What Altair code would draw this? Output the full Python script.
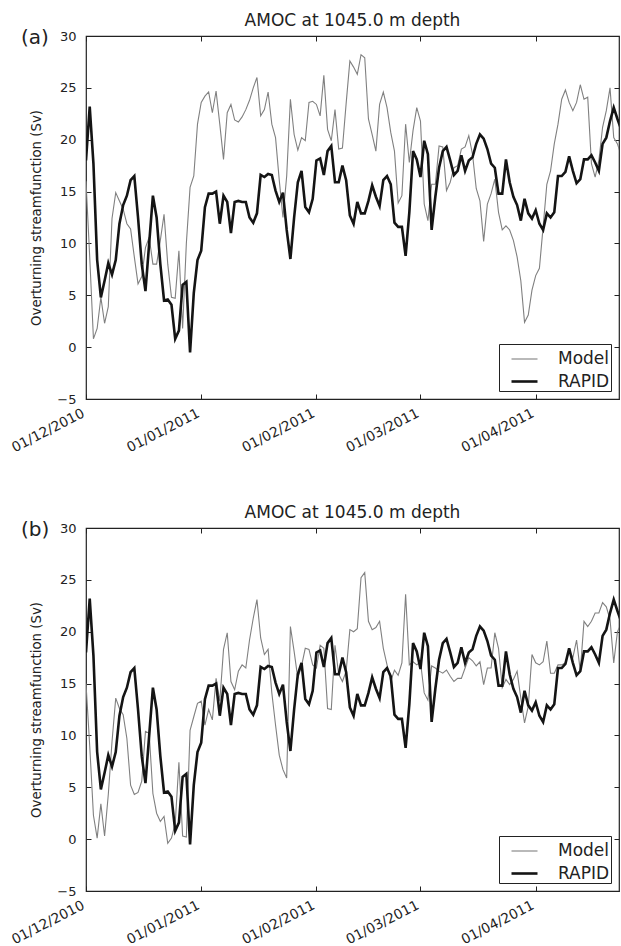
import altair as alt
import pandas as pd

# Daily AMOC transport at 1045 m, 1 Dec 2010 onwards (Sv)
rapid = [
    18.0, 23.2, 17.7, 8.4, 4.8, 6.4, 8.1, 7.0, 8.4, 11.9,
    13.7, 14.6, 16.1, 16.5, 12.5, 8.0, 5.4, 10.0, 14.6, 12.5,
    8.0, 4.5, 4.6, 4.1, 0.8, 1.6, 6.0, 6.3, -0.5, 5.2,
    8.4, 9.3, 13.5, 14.8, 14.8, 15.0, 11.9, 14.6, 14.0, 11.0,
    14.0, 14.1, 14.0, 14.0, 12.5, 12.0, 12.9, 16.6, 16.4, 16.7,
    16.6, 15.1, 14.0, 14.9, 11.3, 8.5, 12.5, 15.9, 17.0, 13.5,
    13.0, 14.3, 18.0, 18.2, 16.6, 18.9, 19.4, 15.9, 15.9, 17.5,
    16.1, 12.7, 11.9, 14.0, 12.9, 12.9, 14.1, 15.6, 14.5, 13.6,
    16.1, 16.5, 15.7, 12.0, 11.6, 11.6, 8.8, 13.0, 18.9, 18.1,
    16.4, 19.9, 18.6, 11.3, 14.5, 17.3, 18.9, 19.3, 18.0, 16.6,
    17.0, 18.5, 17.0, 18.0, 18.3, 19.6, 20.5, 20.1, 19.1, 17.7,
    17.3, 14.8, 14.8, 18.1, 15.9, 14.5, 13.7, 12.2, 14.3, 12.9,
    12.4, 13.2, 11.9, 11.3, 12.9, 12.5, 13.0, 16.5, 16.5, 16.9,
    18.4, 17.0, 15.8, 16.2, 18.1, 18.1, 18.5, 17.8, 17.0, 19.6,
    20.2, 21.8, 23.1, 22.0, 21.0,
]

model_a = [
    16.0, 8.7, 0.8, 1.8, 4.8, 2.3, 3.9, 12.4, 14.9, 14.1,
    13.3, 11.9, 11.4, 8.7, 6.1, 6.8, 9.6, 10.6, 8.0, 8.0,
    10.3, 12.8, 8.0, 4.8, 4.7, 9.3, 1.8, 10.0, 15.4, 16.5,
    21.5, 23.6, 24.2, 24.6, 22.6, 24.7, 21.5, 18.1, 22.6, 23.4,
    21.9, 21.7, 22.2, 22.9, 23.8, 25.0, 26.0, 22.3, 22.9, 24.6,
    21.5, 20.2, 16.1, 12.5, 16.5, 23.9, 20.5, 19.0, 20.2, 19.9,
    23.6, 23.7, 23.4, 22.3, 26.2, 21.0, 19.9, 22.9, 19.1, 19.2,
    23.5, 27.6, 27.0, 26.3, 28.2, 27.9, 22.0, 20.5, 18.9, 23.4,
    24.6, 23.1, 20.7, 18.9, 13.9, 14.6, 21.5, 17.8, 20.9, 23.1,
    21.8, 13.8, 12.2, 15.7, 15.7, 19.4, 19.3, 15.1, 15.9, 17.3,
    17.5, 19.1, 19.3, 20.4, 18.6, 15.3, 14.1, 10.2, 13.8, 14.8,
    16.2, 13.0, 11.3, 11.7, 11.3, 10.3, 8.7, 6.4, 2.4, 3.1,
    5.5, 6.9, 7.6, 11.6, 15.7, 17.0, 19.6, 21.5, 23.9, 24.8,
    23.6, 22.8, 23.6, 25.3, 23.9, 24.1, 17.7, 16.4, 18.0, 21.2,
    22.8, 25.0, 20.2, 19.6, 18.5,
]

model_b = [
    15.0, 9.0, 2.3, 0.1, 3.4, 0.3, 4.3, 9.4, 13.6, 12.6,
    12.0, 9.7, 5.2, 4.3, 4.5, 5.6, 10.4, 10.2, 4.4, 2.5,
    1.7, 2.2, -0.4, 0.1, 1.5, 7.4, 0.3, 0.2, 10.5, 11.8,
    13.1, 13.3, 11.0, 12.5, 11.5, 15.5, 13.3, 18.3, 19.9, 15.2,
    14.4, 16.2, 16.8, 16.5, 19.2, 21.3, 23.1, 19.4, 17.8, 18.3,
    14.1, 11.0, 8.1, 6.7, 5.9, 20.5, 18.1, 15.5, 16.7, 18.4,
    18.3, 16.8, 16.5, 18.7, 18.4, 12.6, 12.5, 18.7, 15.9, 15.2,
    16.2, 20.2, 20.0, 20.3, 25.2, 25.7, 21.0, 20.2, 20.4, 21.0,
    18.4, 16.8, 15.2, 16.3, 15.8, 17.0, 23.6, 16.8, 17.1, 16.8,
    17.1, 14.1, 13.4, 16.7, 16.5, 16.2, 16.0, 16.3, 15.7, 15.2,
    15.5, 15.5, 16.5, 17.5, 17.2, 16.7, 17.1, 14.9, 16.5, 16.5,
    19.9, 18.4, 14.6, 15.4, 14.9, 15.4, 16.2, 13.6, 11.2, 12.8,
    17.8, 17.0, 16.8, 17.1, 19.1, 16.0, 16.0, 16.8, 16.8, 17.0,
    18.1, 17.5, 19.2, 16.2, 21.0, 20.5, 21.0, 21.8, 21.8, 22.8,
    22.4, 21.2, 17.0, 20.0, 20.8,
]

SERIES = ["Model", "RAPID"]
SERIES_COLORS = ["#808080", "#141414"]
SERIES_WIDTHS = [1.1, 2.6]
PANEL_TAGS = ["(a)", "(b)"]
TITLE = "AMOC at 1045.0 m depth"
Y_TITLE = "Overturning streamfunction (Sv)"
Y_TICKS = [-5, 0, 5, 10, 15, 20, 25, 30]
X_TICKS = [
    alt.DateTime(year=2010, month=12, date=1),
    alt.DateTime(year=2011, month=1, date=1),
    alt.DateTime(year=2011, month=2, date=1),
    alt.DateTime(year=2011, month=3, date=1),
    alt.DateTime(year=2011, month=4, date=1),
]

FONT = "DejaVu Sans"
INK = "#222222"

dates = pd.date_range("2010-12-01", periods=len(rapid), freq="D").strftime("%Y-%m-%dT%H:%M:%S")


def series_frame(name, values):
    return pd.DataFrame({"date": list(dates[: len(values)]), "series": name, "value": values})


x_scale = alt.Scale(domain=[alt.DateTime(year=2010, month=12, date=1),
                            alt.DateTime(year=2011, month=4, date=23, hours=10)])
y_scale = alt.Scale(domain=[-5, 30], nice=False, zero=False)

# ticks point into the plot: axes are pulled inside by their own tick length
x_bottom = alt.Axis(values=X_TICKS, format="%d/%m/%Y", labelAngle=333, labelAlign="right",
                    labelBaseline="top", labelFontSize=13.8, labelPadding=7, labelOffset=-6,
                    tickSize=5, offset=-5, domain=False, grid=False, title=None,
                    labelOverlap=False, labelFlush=False, labelBound=False)
x_top = alt.Axis(orient="top", values=X_TICKS, labels=False, tickSize=5, offset=-5,
                 domain=False, grid=False, title=None)
y_left = alt.Axis(values=Y_TICKS, labelFontSize=13, labelPadding=10, tickSize=5, offset=-5,
                  domain=False, grid=False, title=Y_TITLE, titleFontSize=13.3, titlePadding=13,
                  titleFontWeight="normal")
y_right = alt.Axis(orient="right", values=Y_TICKS, labels=False, tickSize=5, offset=-5,
                   domain=False, grid=False, title=None)

legend = alt.Legend(title=None, orient="bottom-right", offset=8, fillColor="white",
                    strokeColor=INK, padding=1, symbolType="stroke", symbolSize=676,
                    symbolOffset=10, labelOffset=19, rowPadding=-2, labelFontSize=17,
                    labelFont=FONT, labelColor=INK, labelLimit=0)

color = alt.Color("series:N", scale=alt.Scale(domain=SERIES, range=SERIES_COLORS), legend=legend)
stroke_w = alt.StrokeWidth("series:N", scale=alt.Scale(domain=SERIES, range=SERIES_WIDTHS),
                           legend=legend)


def panel(model_values, tag):
    model_line = alt.Chart(series_frame("Model", model_values)).mark_line(clip=True).encode(
        x=alt.X("date:T", scale=x_scale, axis=x_bottom),
        y=alt.Y("value:Q", scale=y_scale, axis=y_left),
        color=color,
        strokeWidth=stroke_w,
    )
    rapid_line = alt.Chart(series_frame("RAPID", rapid)).mark_line(clip=True).encode(
        x=alt.X("date:T", scale=x_scale, axis=x_top),
        y=alt.Y("value:Q", scale=y_scale, axis=y_right),
        color=color,
        strokeWidth=stroke_w,
    )
    tag_text = alt.Chart(pd.DataFrame({"panel": [tag]})).mark_text(
        align="left", baseline="middle", fontSize=20, font=FONT, color=INK
    ).encode(x=alt.value(-65), y=alt.value(2), text="panel:N")
    return (
        alt.layer(model_line, rapid_line, tag_text)
        .resolve_scale(x="independent", y="independent")
        .resolve_axis(x="independent", y="independent")
        .properties(
            width=533,
            height=363,
            title=alt.TitleParams(TITLE, fontSize=17, font=FONT, fontWeight="normal",
                                  color=INK, offset=-2),
        )
    )


chart = (
    alt.vconcat(panel(model_a, PANEL_TAGS[0]), panel(model_b, PANEL_TAGS[1]), spacing=48)
    .resolve_legend(color="independent", strokeWidth="independent")
    .properties(padding={"left": 8, "top": 11, "right": 0, "bottom": 0}, background="white")
    .configure_view(stroke=INK, strokeWidth=1.2)
    .configure_axis(labelFont=FONT, titleFont=FONT, labelColor=INK, titleColor=INK,
                    tickColor=INK, tickWidth=1)
)

chart.save("out.html", embed_options={"renderer": "svg", "actions": False})
